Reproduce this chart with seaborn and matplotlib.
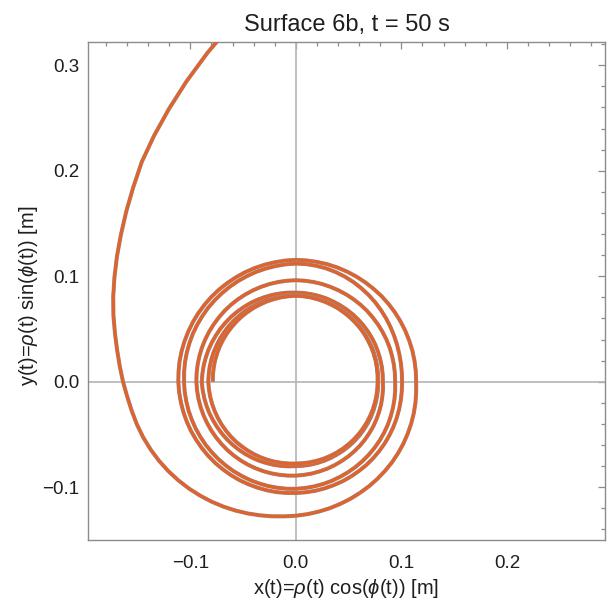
import numpy as np
import pandas as pd
import matplotlib
matplotlib.use("Agg")
import matplotlib.pyplot as plt
import seaborn as sns
from matplotlib.ticker import MultipleLocator, FuncFormatter

# ---- data -----------------------------------------------------------------
# incoming arm: polar angle phi (deg, counter-clockwise, every 5 deg) and radius rho [m]
phi_arm = np.arange(90, 270, 5)
rho_arm = [
    0.398, 0.370, 0.345, 0.323, 0.303, 0.285, 0.269, 0.2545, 0.240,
    0.2275, 0.2165, 0.207, 0.1985, 0.191, 0.184, 0.1775, 0.172, 0.1675,
    0.1638, 0.1605, 0.158, 0.156, 0.154, 0.1519, 0.1498, 0.1476, 0.1454,
    0.1432, 0.1410, 0.1389, 0.1368, 0.1348, 0.1329, 0.1311, 0.1295, 0.1281,
]

# winding loops: polar angle (deg, every 5 deg, one row per quarter turn) and radius [m]
phi_loops = np.arange(270, 2341, 5)
rho_loops = [
    0.1270, 0.1260, 0.1250, 0.1241, 0.1232, 0.1224, 0.1216, 0.1209, 0.1202, 0.1195, 0.1189, 0.1182, 0.1176, 0.1169, 0.1163, 0.1157, 0.1151, 0.1145,
    0.1140, 0.1141, 0.1142, 0.1143, 0.1143, 0.1144, 0.1145, 0.1146, 0.1147, 0.1148, 0.1148, 0.1149, 0.1150, 0.1151, 0.1152, 0.1153, 0.1153, 0.1154,
    0.1155, 0.1153, 0.1150, 0.1148, 0.1146, 0.1144, 0.1141, 0.1139, 0.1137, 0.1135, 0.1132, 0.1130, 0.1128, 0.1125, 0.1123, 0.1121, 0.1119, 0.1116,
    0.1114, 0.1111, 0.1107, 0.1104, 0.1101, 0.1098, 0.1094, 0.1091, 0.1088, 0.1085, 0.1081, 0.1078, 0.1075, 0.1071, 0.1068, 0.1065, 0.1062, 0.1058,
    0.1055, 0.1052, 0.1050, 0.1047, 0.1044, 0.1042, 0.1039, 0.1036, 0.1034, 0.1031, 0.1028, 0.1025, 0.1022, 0.1019, 0.1016, 0.1013, 0.1010, 0.1008,
    0.1007, 0.1008, 0.1011, 0.1015, 0.1021, 0.1028, 0.1036, 0.1045, 0.1054, 0.1064, 0.1073, 0.1082, 0.1091, 0.1099, 0.1106, 0.1112, 0.1116, 0.1119,
    0.1120, 0.1117, 0.1113, 0.1110, 0.1107, 0.1103, 0.1100, 0.1097, 0.1093, 0.1090, 0.1087, 0.1083, 0.1080, 0.1077, 0.1073, 0.1070, 0.1067, 0.1063,
    0.1060, 0.1058, 0.1055, 0.1053, 0.1050, 0.1048, 0.1045, 0.1043, 0.1040, 0.1038, 0.1035, 0.1033, 0.1030, 0.1028, 0.1025, 0.1023, 0.1020, 0.1018,
    0.1015, 0.1011, 0.1007, 0.1003, 0.0999, 0.0994, 0.0990, 0.0986, 0.0982, 0.0978, 0.0974, 0.0970, 0.0966, 0.0962, 0.0957, 0.0953, 0.0949, 0.0945,
    0.0941, 0.0942, 0.0943, 0.0944, 0.0946, 0.0947, 0.0948, 0.0949, 0.0950, 0.0952, 0.0953, 0.0954, 0.0955, 0.0956, 0.0957, 0.0959, 0.0960, 0.0961,
    0.0962, 0.0961, 0.0960, 0.0959, 0.0958, 0.0957, 0.0956, 0.0955, 0.0954, 0.0953, 0.0951, 0.0950, 0.0949, 0.0948, 0.0947, 0.0946, 0.0945, 0.0944,
    0.0943, 0.0940, 0.0937, 0.0934, 0.0931, 0.0928, 0.0925, 0.0922, 0.0919, 0.0917, 0.0914, 0.0911, 0.0908, 0.0905, 0.0902, 0.0899, 0.0896, 0.0893,
    0.0890, 0.0886, 0.0883, 0.0879, 0.0876, 0.0872, 0.0868, 0.0865, 0.0861, 0.0858, 0.0854, 0.0850, 0.0847, 0.0843, 0.0839, 0.0836, 0.0832, 0.0829,
    0.0825, 0.0826, 0.0827, 0.0828, 0.0829, 0.0831, 0.0832, 0.0833, 0.0834, 0.0835, 0.0836, 0.0837, 0.0838, 0.0839, 0.0841, 0.0842, 0.0843, 0.0844,
    0.0845, 0.0848, 0.0850, 0.0853, 0.0855, 0.0858, 0.0861, 0.0863, 0.0866, 0.0869, 0.0871, 0.0874, 0.0876, 0.0879, 0.0882, 0.0884, 0.0887, 0.0889,
    0.0892, 0.0887, 0.0882, 0.0877, 0.0872, 0.0866, 0.0861, 0.0856, 0.0851, 0.0846, 0.0841, 0.0836, 0.0831, 0.0826, 0.0820, 0.0815, 0.0810, 0.0805,
    0.0800, 0.0799, 0.0798, 0.0797, 0.0796, 0.0794, 0.0793, 0.0792, 0.0791, 0.0790, 0.0789, 0.0788, 0.0787, 0.0786, 0.0784, 0.0783, 0.0782, 0.0781,
    0.0780, 0.0782, 0.0784, 0.0787, 0.0789, 0.0791, 0.0793, 0.0796, 0.0798, 0.0800, 0.0802, 0.0804, 0.0807, 0.0809, 0.0811, 0.0813, 0.0816, 0.0818,
    0.0820, 0.0821, 0.0821, 0.0822, 0.0822, 0.0823, 0.0823, 0.0824, 0.0824, 0.0825, 0.0826, 0.0826, 0.0827, 0.0827, 0.0828, 0.0828, 0.0829, 0.0829,
    0.0830, 0.0827, 0.0824, 0.0821, 0.0818, 0.0815, 0.0812, 0.0809, 0.0806, 0.0803, 0.0799, 0.0796, 0.0793, 0.0790, 0.0787, 0.0784, 0.0781, 0.0778,
    0.0775, 0.0775, 0.0775, 0.0775, 0.0775, 0.0775, 0.0775, 0.0775, 0.0775, 0.0775, 0.0775, 0.0775, 0.0775, 0.0775, 0.0775, 0.0775, 0.0775, 0.0775,
    0.0775, 0.0777, 0.0779, 0.0782, 0.0784, 0.0786, 0.0788, 0.0791, 0.0793, 0.0795, 0.0797, 0.0799, 0.0802, 0.0804, 0.0806, 0.0808, 0.0811, 0.0813,
    0.0815, 0.0813, 0.0812, 0.0810, 0.0809, 0.0807, 0.0806, 0.0804, 0.0803, 0.0801, 0.0799, 0.0798, 0.0796, 0.0795, 0.0793, 0.0792, 0.0790, 0.0789,
    0.0787,
]

title = "Surface 6b, t = 50 s"
xlabel = r"x(t)=$\rho$(t) cos($\phi$(t)) [m]"
ylabel = r"y(t)=$\rho$(t) sin($\phi$(t)) [m]"
x_limits = (-0.197, 0.293)
y_limits = (-0.150, 0.322)

# ---- build table (x = rho cos phi, y = rho sin phi) --------------------------
phi_all = np.concatenate([phi_arm, phi_loops]).astype(float)
rho = np.array(rho_arm + rho_loops)
phi = np.deg2rad(phi_all)
df = pd.DataFrame({"x": rho * np.cos(phi), "y": rho * np.sin(phi), "phi": phi_all})

# ---- styling ----------------------------------------------------------------
sns.set_style("white")
plt.rcParams["font.family"] = ["Liberation Sans", "DejaVu Sans"]
plt.rcParams["mathtext.fontset"] = "custom"
plt.rcParams["mathtext.it"] = "Liberation Sans:italic"
plt.rcParams["mathtext.rm"] = "Liberation Sans"

orange = "#E1622B"
edge = "#929292"
frame_col = "#8c8c8c"
text_col = "#1e1e1e"

fig = plt.figure(figsize=(6.07, 6.04), dpi=100)
ax = fig.add_axes([88 / 607, 1 - 540 / 604, (605 - 88) / 607, (540 - 42) / 604])

ax.axhline(0, color="#b4b4b4", lw=1.2, zorder=1)
ax.axvline(0, color="#b4b4b4", lw=1.2, zorder=1)

# draw the trajectory turn by turn so that overlapping turns keep a thin edge
turn_edges = [90, 300, 660, 1020, 1380, 1740, 2100, 2340]
for k in range(len(turn_edges) - 1):
    seg = df[(df["phi"] >= turn_edges[k]) & (df["phi"] <= turn_edges[k + 1])]
    sns.lineplot(data=seg, x="x", y="y", sort=False, estimator=None, ax=ax,
                 color=edge, lw=2.9, solid_capstyle="butt", solid_joinstyle="round",
                 zorder=2 + 2 * k)
    sns.lineplot(data=seg, x="x", y="y", sort=False, estimator=None, ax=ax,
                 color=orange, lw=2.25, solid_capstyle="butt", solid_joinstyle="round",
                 zorder=3 + 2 * k)

ax.set_xlim(*x_limits)
ax.set_ylim(*y_limits)

ax.xaxis.set_major_locator(MultipleLocator(0.1))
ax.xaxis.set_minor_locator(MultipleLocator(0.02))
ax.yaxis.set_major_locator(MultipleLocator(0.1))
ax.yaxis.set_minor_locator(MultipleLocator(0.02))
fmt = FuncFormatter(lambda v, p: ("\u2212%.1f" % abs(v)) if v < -1e-9 else "%.1f" % abs(v))
ax.xaxis.set_major_formatter(fmt)
ax.yaxis.set_major_formatter(fmt)

ax.tick_params(which="both", direction="in", top=True, right=True,
               color=frame_col, width=0.9)
ax.tick_params(which="major", length=5, labelsize=13.5, labelcolor=text_col)
ax.tick_params(which="minor", length=3)
ax.tick_params(axis="x", which="major", pad=11)
ax.tick_params(axis="y", which="major", pad=6)
for sp in ax.spines.values():
    sp.set_color(frame_col)
    sp.set_linewidth(1.0)

ax.set_xlabel(xlabel, fontsize=14.5, color=text_col)
ax.xaxis.set_label_coords(0.5, -0.074)
ax.set_ylabel(ylabel, fontsize=14.5, color=text_col)
ax.yaxis.set_label_coords(-0.093, 0.49)
ax.grid(False)

fig.text((88 + 605) / 2 / 607, 1 - 31 / 604, title, fontsize=17, color=text_col,
         ha="center", va="baseline")

fig.savefig("out.png", dpi=100)
